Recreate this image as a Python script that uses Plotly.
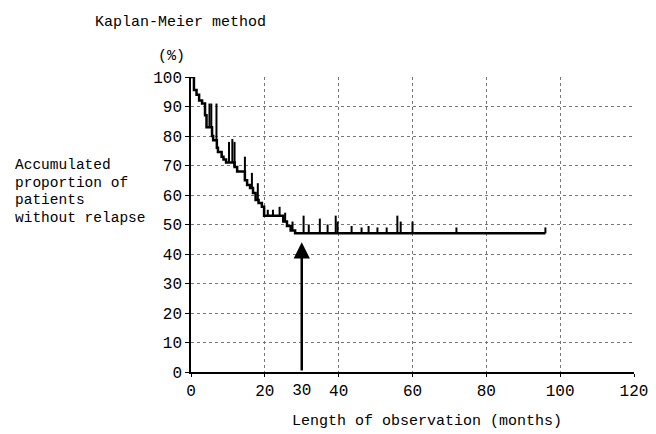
import numpy as np
import plotly.graph_objects as go

# Kaplan-Meier step data (months, % without relapse)
event_months = [0, 0.8, 1.5, 2.2, 3.0, 3.8, 4.2, 5.7, 6.0, 7.0, 7.3, 8.3, 8.8, 9.5,
                11.8, 12.5, 14.6, 15.2, 16.0, 16.8, 17.5, 18.3, 19.2, 19.8,
                25.0, 26.0, 27.0, 28.2, 96.0]
survival = [100, 95.6, 94, 92, 91, 87, 83, 80, 78.6, 76, 74.6, 73, 72, 71,
            69.5, 68, 65, 63.4, 62.4, 60.7, 58.3, 57.3, 56, 53,
            51, 49.5, 48, 47, 47]

# censored observations (month, top of tick mark in %)
censor_months = [5.0, 5.5, 6.9, 10.3, 11.2, 11.8, 14.6, 16.5, 18.1, 20.8, 22.2, 24.0,
                 25.5, 27.5, 30.5, 31.9, 34.9, 37.0, 39.2, 39.7, 43.5, 46.2, 48.1,
                 50.5, 53.0, 55.9, 56.8, 60.0, 71.9, 96.0]
censor_tops = [91, 91, 91, 78, 79, 78, 73, 67.5, 64, 55, 55, 56,
               54, 51, 53, 50, 52, 50, 53, 51, 49.5, 49, 49.5,
               49, 49, 53, 51, 51, 49, 49]

x_ticks_main = [0, 20, 40, 60, 80, 100, 120]
x_tick_extra = [30]
y_ticks = list(range(0, 101, 10))
median_month = 30
arrow_tip = 44

# base of each censor tick = curve value at that time
ev = np.array(event_months)
sv = np.array(survival)
cx, cy = [], []
for m, top in zip(censor_months, censor_tops):
    idx = np.searchsorted(ev, m, side="right") - 1
    cx += [m, m, None]
    cy += [sv[idx], top, None]

FONT = "Liberation Mono"

fig = go.Figure()
fig.add_trace(go.Scatter(x=event_months, y=survival, mode="lines",
                         line=dict(color="black", width=2.5, shape="hv"),
                         cliponaxis=False, showlegend=False, hoverinfo="skip"))
fig.add_trace(go.Scatter(x=cx, y=cy, mode="lines", xaxis="x2",
                         line=dict(color="black", width=2),
                         cliponaxis=False, showlegend=False, hoverinfo="skip"))

fig.add_annotation(x=median_month, y=arrow_tip, ax=median_month, ay=0,
                   xref="x", yref="y", axref="x", ayref="y",
                   showarrow=True, arrowhead=2, arrowsize=1.3, arrowwidth=2.5,
                   arrowcolor="black", text="")

def ann(text, x, y, xanchor="left", size=15):
    fig.add_annotation(text=text, x=x, y=y, xref="paper", yref="paper",
                       xanchor=xanchor, yanchor="middle", showarrow=False,
                       font=dict(family=FONT, size=size, color="black"))

# page has an 8px body margin; plot area targeted at page px x 191..634, y 77..372
OFF = 8
W = 443.0
H = 295.0
ann("Kaplan-Meier method", (93 - 191) / W, (372 - 22) / H)
ann("(%)", (171 - 191) / W, (372 - 57) / H, xanchor="center")
for i, line in enumerate(["Accumulated", "proportion of", "patients", "without relapse"]):
    ann(line, (13 - 191) / W, (372 - (165 + 17.6 * i)) / H, size=14.5)
ann("Length of observation (months)", (427 - 191) / W, (372 - 421) / H, xanchor="center")

grid = dict(showgrid=True, gridcolor="#777777", griddash="dot", gridwidth=1)
fig_w, fig_h = 642, 426
ml, mt = 191 - OFF, 77 - OFF
fig.update_layout(
    width=fig_w, height=fig_h,
    margin=dict(l=ml, r=fig_w - ml - int(W), t=mt, b=fig_h - mt - int(H), autoexpand=False),
    paper_bgcolor="white", plot_bgcolor="white",
    font=dict(family=FONT, size=16, color="black"),
    xaxis=dict(range=[0, 120], tickvals=x_ticks_main, ticktext=[str(v) for v in x_ticks_main],
               showline=True, linecolor="black", linewidth=1.5, zeroline=False, automargin=False,
               ticks="outside", ticklen=3, tickcolor="black", **grid),
    xaxis2=dict(range=[0, 120], overlaying="x", anchor="y", side="bottom", automargin=False,
                matches="x", tickvals=x_tick_extra, ticktext=[str(v) for v in x_tick_extra],
                showgrid=False, showline=False, zeroline=False,
                ticks="outside", ticklen=3, tickcolor="rgba(0,0,0,0)"),
    yaxis=dict(range=[0, 100], tickvals=y_ticks, ticktext=[str(v) for v in y_ticks],
               showline=True, linecolor="black", linewidth=1.5, zeroline=False, automargin=False,
               ticks="outside", ticklen=4, tickcolor="black", **grid),
)

fig.write_html("out.html")
